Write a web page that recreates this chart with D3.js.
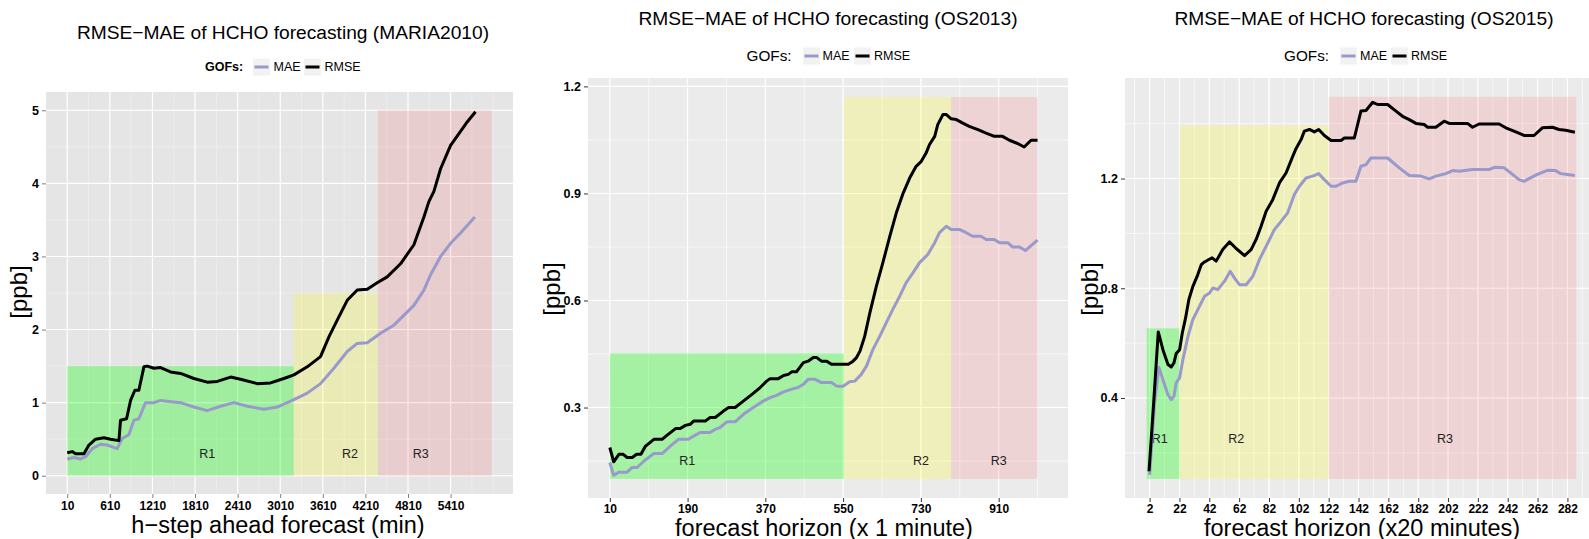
<!DOCTYPE html>
<html><head><meta charset="utf-8">
<script src="https://cdn.jsdelivr.net/npm/d3@7"></script>
<style>
body{margin:0;background:#fff}
svg{display:block}
text{font-family:"Liberation Sans",Arial,Helvetica,sans-serif}
</style>
</head><body>
<svg id="chart" width="1589" height="539"></svg>
<script>
// ---------------- DATA ----------------
const titles = ["RMSE\u2212MAE of HCHO forecasting (MARIA2010)",
                "RMSE\u2212MAE of HCHO forecasting (OS2013)",
                "RMSE\u2212MAE of HCHO forecasting (OS2015)"];
const xTitles = ["h\u2212step ahead forecast (min)",
                 "forecast horizon (x 1 minute)",
                 "forecast horizon (x20 minutes)"];
const seriesNames = ["MAE", "RMSE"];
const regionNames = ["R1", "R2", "R3"];

// tick labels
const xTicks1 = [10, 610, 1210, 1810, 2410, 3010, 3610, 4210, 4810, 5410];
const yTicks1 = [0, 1, 2, 3, 4, 5];
const xTicks2 = [10, 190, 370, 550, 730, 910];
const yTicks2 = [0.3, 0.6, 0.9, 1.2];
const xTicks3 = [2, 22, 42, 62, 82, 102, 122, 142, 162, 182, 202, 222, 242, 262, 282];
const yTicks3 = [0.4, 0.8, 1.2];

// regions [x0, x1, y0, y1]
const regions1 = [[10, 3200, 0, 1.5], [3200, 4385, 0, 2.5], [4385, 5990, 0, 5]];
const regionLabelX1 = [1983, 3994, 4990];
const regionLabelY1 = 0.3;
const regions2 = [[10, 552, 0.1, 0.452], [552, 800, 0.1, 1.17], [800, 1000, 0.1, 1.17]];
const regionLabelX2 = [189, 730, 910];
const regionLabelY2 = 0.15;
const regions3 = [[0, 22, 0.105, 0.654], [22, 122, 0.105, 1.394], [122, 288, 0.105, 1.498]];
const regionLabelX3 = [8.7, 60, 200];
const regionLabelY3 = 0.252;

// MARIA2010
const mariaRMSE = [[10,0.315],[80,0.33],[127,0.30],[245,0.30],[315,0.42],[409,0.50],[526,0.52],[620,0.50],[738,0.48],[761,0.76],[846,0.78],[902,1.03],[963,1.17],[1019,1.17],[1090,1.49],[1137,1.50],[1231,1.47],[1324,1.48],[1465,1.42],[1606,1.40],[1794,1.33],[1982,1.28],[2123,1.29],[2311,1.35],[2451,1.32],[2686,1.26],[2874,1.27],[3062,1.33],[3203,1.38],[3391,1.49],[3578,1.63],[3696,1.90],[3813,2.13],[3954,2.40],[4095,2.54],[4236,2.55],[4376,2.64],[4517,2.72],[4705,2.90],[4893,3.16],[5034,3.54],[5104,3.75],[5175,3.89],[5269,4.20],[5410,4.52],[5550,4.71],[5644,4.84],[5761,4.98]];
const mariaMAE = [[10,0.23],[104,0.25],[198,0.23],[268,0.26],[362,0.37],[479,0.43],[573,0.42],[714,0.37],[785,0.51],[878,0.56],[949,0.76],[1019,0.78],[1113,1.00],[1160,1.00],[1231,1.00],[1324,1.03],[1606,1.00],[1794,0.94],[1982,0.89],[2170,0.95],[2358,1.00],[2545,0.95],[2780,0.91],[2968,0.94],[3203,1.04],[3391,1.13],[3578,1.26],[3766,1.47],[3954,1.70],[4095,1.81],[4236,1.82],[4423,1.95],[4611,2.06],[4893,2.33],[5034,2.54],[5128,2.75],[5269,3.00],[5410,3.18],[5550,3.32],[5752,3.54]];

// OS2013
const os13RMSE = [[10,0.188],[19,0.148],[31,0.169],[41,0.169],[50,0.160],[62,0.160],[72,0.169],[82,0.169],[92,0.191],[112,0.211],[131,0.211],[142,0.222],[162,0.241],[173,0.241],[185,0.250],[196,0.253],[204,0.262],[231,0.262],[242,0.272],[254,0.272],[273,0.290],[285,0.300],[300,0.300],[319,0.318],[339,0.337],[358,0.356],[373,0.374],[381,0.381],[400,0.381],[412,0.390],[423,0.393],[431,0.400],[442,0.400],[458,0.426],[469,0.430],[481,0.440],[489,0.440],[500,0.430],[512,0.430],[523,0.421],[562,0.421],[573,0.430],[581,0.440],[589,0.458],[600,0.500],[612,0.566],[627,0.640],[642,0.706],[658,0.780],[673,0.845],[689,0.901],[704,0.943],[719,0.976],[731,0.990],[742,1.013],[750,1.037],[762,1.060],[769,1.093],[781,1.121],[789,1.121],[800,1.109],[812,1.107],[827,1.097],[842,1.088],[862,1.079],[881,1.069],[900,1.060],[919,1.060],[935,1.049],[954,1.040],[969,1.030],[985,1.049],[1000,1.049]];
const os13MAE = [[10,0.146],[19,0.110],[31,0.119],[50,0.119],[62,0.132],[73,0.132],[92,0.153],[112,0.171],[131,0.171],[150,0.192],[169,0.211],[192,0.211],[204,0.220],[219,0.230],[242,0.230],[254,0.239],[265,0.244],[281,0.260],[300,0.260],[319,0.281],[342,0.300],[365,0.318],[381,0.328],[396,0.334],[412,0.344],[435,0.353],[446,0.356],[458,0.365],[469,0.379],[485,0.379],[500,0.370],[523,0.370],[535,0.360],[550,0.360],[565,0.372],[577,0.374],[592,0.393],[604,0.416],[619,0.463],[635,0.500],[650,0.538],[665,0.575],[681,0.612],[696,0.650],[712,0.678],[727,0.706],[746,0.729],[762,0.762],[773,0.790],[789,0.808],[800,0.799],[819,0.799],[835,0.790],[850,0.780],[869,0.780],[881,0.771],[900,0.771],[912,0.762],[931,0.762],[942,0.750],[958,0.750],[972,0.740],[985,0.754],[1000,0.769]];

// OS2015
const os15RMSE = [[1.6,0.133],[4.7,0.382],[7.8,0.641],[10.9,0.576],[14.3,0.522],[16.5,0.513],[18.3,0.528],[19.8,0.562],[22.1,0.576],[23.9,0.637],[26.1,0.692],[28.3,0.759],[31,0.807],[34.3,0.850],[36.6,0.886],[38.8,0.896],[41.7,0.905],[43.9,0.911],[46.6,0.899],[51,0.941],[55.5,0.969],[60,0.945],[65.6,0.919],[70,0.941],[73.4,0.978],[76.7,1.026],[80.1,1.081],[84.5,1.123],[89,1.184],[93.5,1.221],[97.9,1.281],[100.1,1.309],[103.5,1.342],[105.7,1.373],[109.1,1.379],[112.4,1.370],[115.3,1.379],[119.1,1.357],[123.6,1.339],[130.3,1.339],[132.5,1.348],[139.2,1.348],[143.6,1.446],[147,1.448],[151.5,1.478],[154.8,1.470],[161.5,1.470],[167.1,1.446],[171.5,1.427],[176,1.415],[180.5,1.401],[186,1.397],[188.3,1.387],[193.8,1.387],[199.4,1.409],[202.8,1.401],[215,1.401],[218.4,1.387],[222.8,1.399],[236.2,1.399],[240.7,1.385],[247.4,1.370],[252.9,1.357],[259.6,1.357],[265.2,1.385],[271.9,1.387],[276.4,1.379],[280.8,1.376],[287,1.369]];
const os15MAE = [[2,0.12],[5.3,0.382],[8.2,0.512],[10.9,0.467],[14.3,0.412],[16.5,0.394],[18.3,0.406],[19.8,0.455],[22.1,0.473],[24.3,0.540],[27.7,0.625],[31,0.686],[34.3,0.722],[38.8,0.771],[42.2,0.783],[44.4,0.801],[47.7,0.795],[52.2,0.826],[56,0.862],[58.9,0.837],[62.2,0.813],[66.7,0.813],[71.2,0.844],[75.6,0.905],[81.2,0.965],[85.6,1.014],[90.1,1.044],[94.5,1.075],[99,1.142],[102.4,1.172],[106.8,1.202],[111.3,1.209],[115.3,1.218],[119.1,1.196],[123.6,1.172],[126.9,1.172],[131.4,1.184],[135.8,1.190],[140.3,1.190],[143.6,1.245],[147,1.251],[150.3,1.275],[161.5,1.275],[169.3,1.239],[176,1.211],[183.8,1.209],[189.4,1.199],[193.8,1.209],[200.5,1.218],[205,1.229],[209.5,1.227],[218.4,1.233],[229.5,1.233],[232.9,1.241],[239.6,1.239],[245.2,1.215],[249.6,1.196],[252.9,1.190],[258.5,1.206],[263,1.218],[268.6,1.230],[274.1,1.229],[277.5,1.218],[282,1.215],[287,1.211]];

// ---------------- LAYOUT / STYLE ----------------
const seriesColors = {MAE: "#9999cc", RMSE: "#000000"};
const regionFills = [["#00ff00", 0.3], ["#ffff00", 0.2], ["#ff0000", 0.1]];

const panels = [
  { title: titles[0], titleX: 283, titleY: 38.5, xTitle: xTitles[0], xTitleX: 278, xTitleY: 533, xTitleSize: 23.5,
    left: 46, right: 513, top: 92, bottom: 494, tickPad: 3,
    xLim: [-289, 6289], yLim: [-0.25, 5.25],
    xBreaks: xTicks1, yBreaks: yTicks1, yFmt: d3.format("d"),
    bg: "#e5e5e5", minorColor: "#f2f2f2", minorW: 0.6, majorW: 1.1, tickColor: "#7f7f7f",
    regions: regions1, labX: regionLabelX1, labY: regionLabelY1,
    mae: mariaMAE, rmse: mariaRMSE,
    yTitleX: 27, yTitleY: 292,
    legend: {gx: 205, cy: 67, bold: true, gsize: 12.5, k1: 253, t1: 273.5, k2: 304, t2: 324.5} },
  { title: titles[1], titleX: 828, titleY: 25, xTitle: xTitles[1], xTitleX: 824, xTitleY: 535.5, xTitleSize: 23.5,
    left: 588, right: 1068, top: 78, bottom: 498, tickPad: 2.5,
    xLim: [-40.5, 1070.5], yLim: [0.0465, 1.2235],
    xBreaks: xTicks2, yBreaks: yTicks2, yFmt: d3.format(".1f"),
    bg: "#ebebeb", minorColor: "#ffffff", minorW: 0.6, majorW: 1.1, tickColor: "#333333",
    regions: regions2, labX: regionLabelX2, labY: regionLabelY2,
    mae: os13MAE, rmse: os13RMSE,
    yTitleX: 560, yTitleY: 289,
    legend: {gx: 746.5, cy: 56, bold: false, gsize: 15.3, k1: 803, t1: 822.5, k2: 854, t2: 874} },
  { title: titles[2], titleX: 1364, titleY: 25, xTitle: xTitles[2], xTitleX: 1362, xTitleY: 535.5, xTitleSize: 23.5,
    left: 1125, right: 1601, top: 78, bottom: 498, tickPad: 2.5,
    xLim: [-14.5, 304.5], yLim: [0.0354, 1.5666],
    xBreaks: xTicks3, yBreaks: yTicks3, yFmt: d3.format(".1f"),
    bg: "#ebebeb", minorColor: "#ffffff", minorW: 0.6, majorW: 1.1, tickColor: "#333333",
    regions: regions3, labX: regionLabelX3, labY: regionLabelY3,
    mae: os15MAE, rmse: os15RMSE,
    yTitleX: 1097.5, yTitleY: 289,
    legend: {gx: 1284, cy: 56, bold: false, gsize: 15.3, k1: 1340, t1: 1360, k2: 1391, t2: 1411} }
];

// ggplot-style minor breaks
function minorBreaks(b, lim) {
  const bd = b[1] - b[0];
  let bb = b.slice();
  if (lim[0] < bb[0]) bb.unshift(bb[0] - bd);
  if (lim[1] > bb[bb.length - 1]) bb.push(bb[bb.length - 1] + bd);
  const out = [];
  for (let i = 0; i < bb.length - 1; i++) out.push(bb[i], (bb[i] + bb[i + 1]) / 2);
  out.push(bb[bb.length - 1]);
  return out.filter(v => v >= lim[0] && v <= lim[1]);
}

const svg = d3.select("#chart");
const defs = svg.append("defs");

panels.forEach((p, i) => {
  const x = d3.scaleLinear().domain(p.xLim).range([p.left, p.right]);
  const y = d3.scaleLinear().domain(p.yLim).range([p.bottom, p.top]);
  const g = svg.append("g");
  const cid = "clip" + i;
  defs.append("clipPath").attr("id", cid).append("rect")
    .attr("x", p.left).attr("y", p.top).attr("width", p.right - p.left).attr("height", p.bottom - p.top);
  const pg = g.append("g").attr("clip-path", `url(#${cid})`);

  pg.append("rect").attr("x", p.left).attr("y", p.top)
    .attr("width", p.right - p.left).attr("height", p.bottom - p.top).attr("fill", p.bg);

  // minor grid
  const xm = minorBreaks(p.xBreaks, p.xLim), ym = minorBreaks(p.yBreaks, p.yLim);
  pg.selectAll(".xm").data(xm).enter().append("line")
    .attr("x1", d => x(d)).attr("x2", d => x(d)).attr("y1", p.top).attr("y2", p.bottom)
    .attr("stroke", p.minorColor).attr("stroke-width", p.minorW);
  pg.selectAll(".ym").data(ym).enter().append("line")
    .attr("y1", d => y(d)).attr("y2", d => y(d)).attr("x1", p.left).attr("x2", p.right)
    .attr("stroke", p.minorColor).attr("stroke-width", p.minorW);
  // major grid
  pg.selectAll(".xM").data(p.xBreaks).enter().append("line")
    .attr("x1", d => x(d)).attr("x2", d => x(d)).attr("y1", p.top).attr("y2", p.bottom)
    .attr("stroke", "#ffffff").attr("stroke-width", p.majorW);
  pg.selectAll(".yM").data(p.yBreaks).enter().append("line")
    .attr("y1", d => y(d)).attr("y2", d => y(d)).attr("x1", p.left).attr("x2", p.right)
    .attr("stroke", "#ffffff").attr("stroke-width", p.majorW);

  // regions
  pg.selectAll(".reg").data(p.regions).enter().append("rect")
    .attr("x", d => x(d[0])).attr("width", d => x(d[1]) - x(d[0]))
    .attr("y", d => y(d[3])).attr("height", d => y(d[2]) - y(d[3]))
    .attr("fill", (d, j) => regionFills[j][0]).attr("fill-opacity", (d, j) => regionFills[j][1]);
  pg.selectAll(".rl").data(regionNames).enter().append("text")
    .attr("x", (d, j) => x(p.labX[j])).attr("y", y(p.labY)).attr("dy", "0.35em")
    .attr("text-anchor", "middle").attr("font-size", 12.5).attr("fill", "#222").text(d => d);

  // lines
  const line = d3.line().x(d => x(d[0])).y(d => y(d[1]));
  [["MAE", p.mae], ["RMSE", p.rmse]].forEach(([n, data]) => {
    pg.append("path").datum(data).attr("d", line).attr("fill", "none")
      .attr("stroke", seriesColors[n]).attr("stroke-width", 3)
      .attr("stroke-linejoin", "round").attr("stroke-linecap", "butt");
  });

  // axes
  const xAxis = d3.axisBottom(x).tickValues(p.xBreaks).tickSize(4).tickPadding(p.tickPad).tickFormat(d3.format("d"));
  const ax = g.append("g").attr("transform", `translate(0,${p.bottom})`).call(xAxis);
  ax.select(".domain").remove();
  ax.selectAll("line").attr("stroke", p.tickColor);
  ax.selectAll("text").attr("font-size", 12).attr("font-weight", "bold").attr("fill", "#000")
    .attr("font-family", '"Liberation Sans",Arial,sans-serif');

  const yAxis = d3.axisLeft(y).tickValues(p.yBreaks).tickSize(4).tickPadding(3).tickFormat(p.yFmt);
  const ay = g.append("g").attr("transform", `translate(${p.left},0)`).call(yAxis);
  ay.select(".domain").remove();
  ay.selectAll("line").attr("stroke", p.tickColor);
  ay.selectAll("text").attr("font-size", 12.5).attr("font-weight", "bold").attr("fill", "#000")
    .attr("font-family", '"Liberation Sans",Arial,sans-serif');

  // titles
  g.append("text").attr("x", p.titleX).attr("y", p.titleY).attr("text-anchor", "middle")
    .attr("font-size", 19.2).attr("fill", "#000").text(p.title);
  g.append("text").attr("x", p.xTitleX).attr("y", p.xTitleY).attr("text-anchor", "middle")
    .attr("font-size", p.xTitleSize).attr("fill", "#000").text(p.xTitle);
  g.append("text").attr("transform", `translate(${p.yTitleX},${p.yTitleY}) rotate(-90)`)
    .attr("text-anchor", "middle").attr("font-size", 24).attr("fill", "#000").text("[ppb]");

  // legend
  const L = p.legend;
  g.append("text").attr("x", L.gx).attr("y", L.cy).attr("dy", "0.35em")
    .attr("font-size", L.gsize).attr("font-weight", L.bold ? "bold" : "normal").text("GOFs:");
  [[L.k1, L.t1, "MAE"], [L.k2, L.t2, "RMSE"]].forEach(([kx, tx, n]) => {
    g.append("rect").attr("x", kx).attr("y", L.cy - 8.5).attr("width", 17).attr("height", 17).attr("fill", "#f2f2f2");
    g.append("line").attr("x1", kx + 1.5).attr("x2", kx + 15.5).attr("y1", L.cy).attr("y2", L.cy)
      .attr("stroke", seriesColors[n]).attr("stroke-width", 3);
    g.append("text").attr("x", tx).attr("y", L.cy).attr("dy", "0.35em").attr("font-size", 12.5).text(n);
  });
});
</script>
</body></html>
